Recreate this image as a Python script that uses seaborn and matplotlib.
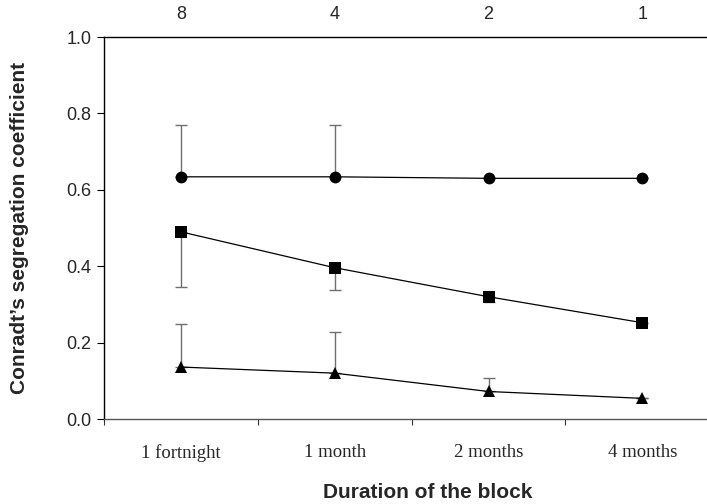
import matplotlib
matplotlib.use("Agg")
import matplotlib.pyplot as plt
import seaborn as sns
import pandas as pd
import numpy as np

# ---- data ----
durations = ["1 fortnight", "1 month", "2 months", "4 months"]
blocks = ["8", "4", "2", "1"]
circle_vals = [0.634, 0.634, 0.630, 0.630]
square_vals = [0.490, 0.396, 0.320, 0.252]
triangle_vals = [0.136, 0.120, 0.072, 0.054]
circle_err_up = [0.136, 0.136, 0.0, 0.0]
square_err_down = [0.144, 0.059, 0.013, 0.0]
triangle_err_up = [0.113, 0.107, 0.035, 0.0]

sns.set_style("white")
plt.rcParams["font.family"] = ["Liberation Sans", "DejaVu Sans"]

fig = plt.figure(figsize=(7.07, 5.04), dpi=100)
ax = fig.add_axes([104 / 707, 1 - 419 / 504, (707 - 104) / 707, (419 - 37) / 504])

pos = np.arange(len(durations))
df = pd.DataFrame({
    "pos": np.concatenate([pos, pos, pos]),
    "value": circle_vals + square_vals + triangle_vals,
    "series": ["circle"] * 4 + ["square"] * 4 + ["triangle"] * 4,
})

# error bars (one-sided, grey)
ekw = dict(fmt="none", ecolor="#6f6f6f", elinewidth=1.0, capsize=4.5, capthick=1.0, zorder=1)
ax.errorbar(pos, circle_vals, yerr=[np.zeros(4), circle_err_up], **ekw)
ax.errorbar(pos, square_vals, yerr=[square_err_down, np.zeros(4)], **ekw)
ax.errorbar(pos, triangle_vals, yerr=[np.zeros(4), triangle_err_up], **ekw)

sns.lineplot(data=df, x="pos", y="value", hue="series", style="series",
             markers={"circle": "o", "square": "s", "triangle": "^"},
             dashes=False, palette={"circle": "black", "square": "black", "triangle": "black"},
             linewidth=0.9, markersize=8.5, markeredgewidth=0, ax=ax, legend=False, zorder=3)

ax.set_xlim(-0.5, 3.42)
ax.set_ylim(0, 1.0)

# y axis
ax.set_yticks(np.arange(0, 1.01, 0.2))
ax.set_yticklabels([f"{v:.1f}" for v in np.arange(0, 1.01, 0.2)], fontsize=13)
ax.tick_params(axis="y", direction="out", length=5, width=0.8, color="black", pad=4, left=True)

# bottom x axis: labels at categories, ticks at boundaries
ax.set_xticks(pos)
ax.set_xticklabels(durations, fontsize=13.5, family=["Liberation Serif", "DejaVu Serif"])
ax.tick_params(axis="x", which="major", length=0, pad=18)
ax.set_xticks([-0.5, 0.5, 1.5, 2.5], minor=True)
ax.tick_params(axis="x", which="minor", direction="out", length=4, width=0.8, color="#333333", bottom=True)

ax.set_xlabel("")
ax.set_ylabel("")

# top axis with number of blocks
top = ax.secondary_xaxis("top")
top.set_xticks(pos)
top.set_xticklabels(blocks, fontsize=13)
top.tick_params(axis="x", length=0, pad=10)
top.spines["top"].set_visible(False)

for s in ["left", "top", "bottom"]:
    ax.spines[s].set_visible(True)
    ax.spines[s].set_linewidth(1.0)
ax.spines["left"].set_color("black")
ax.spines["top"].set_color("black")
ax.spines["bottom"].set_color("#555555")
ax.spines["right"].set_visible(False)

fig.text(428 / 707, 1 - 492 / 504, "Duration of the block", ha="center", va="center",
         fontsize=15, fontweight="bold")
fig.text(20 / 707, 1 - 228 / 504, "Conradt\u2019s segregation coefficient", ha="center", va="center",
         rotation=90, fontsize=15, fontweight="bold")

fig.savefig("out.png", dpi=100)
